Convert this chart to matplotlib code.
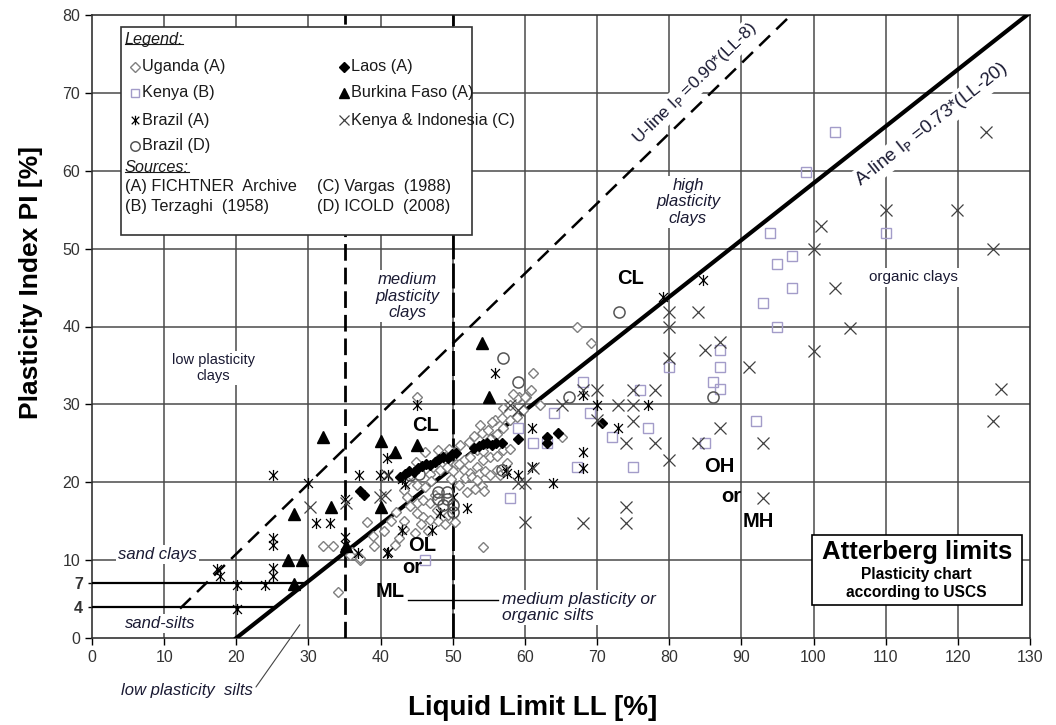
import numpy as np
import matplotlib
matplotlib.use("Agg")
import matplotlib.pyplot as plt
from matplotlib.path import Path
from matplotlib.patches import Rectangle

plt.rcParams['font.family'] = ['Liberation Sans', 'DejaVu Sans']

# (LL, PI) pairs
uganda = [(34.1, 5.9), (32.0, 11.8), (33.4, 11.8), (36.0, 11.0), (37.1, 10.0), (38.1, 14.9), (39.1, 11.8),
          (39.0, 13.1), (42.0, 11.9), (54.2, 11.7), (37.2, 10.3), (35.8, 10.7), (45.1, 31.0),
          (61.1, 34.0), (59.2, 30.9), (60.2, 30.9), (62.1, 29.9), (65.2, 25.8), (67.2, 39.9), (69.2, 37.9),
          (46.1, 23.9), (48.0, 24.1), (48.9, 23.3), (49.4, 22.6), (50.3, 23.9), (51.0, 24.8), (52.2, 25.2),
          (52.9, 25.9), (54.0, 26.3), (54.9, 26.7), (55.9, 28.0), (56.8, 28.2), (57.9, 29.9), (58.9, 30.8),
          (60.0, 31.0), (50.5, 22.4), (51.5, 22.8), (52.4, 23.3), (53.3, 24.1), (54.2, 24.0), (55.2, 25.5),
          (56.1, 26.2), (57.0, 27.0), (57.9, 28.0), (58.9, 28.4), (59.8, 29.3), (51.5, 21.6), (52.4, 21.2),
          (53.3, 22.0), (54.2, 22.8), (55.2, 23.3), (56.1, 23.4), (57.0, 24.1), (58.0, 24.3),
          (46.8, 21.1), (47.3, 21.9), (48.2, 21.6), (49.2, 21.9), (50.1, 21.5), (50.8, 22.4), (51.7, 20.6),
          (52.6, 20.7), (53.6, 21.1), (54.5, 21.5), (53.4, 20.3), (54.1, 19.5), (53.1, 19.1), (54.3, 18.9),
          (55.2, 20.9), (56.1, 21.6), (56.6, 20.9), (57.5, 22.5), (44.1, 20.9), (43.6, 20.1), (45.0, 19.6),
          (46.2, 19.4), (47.0, 20.2), (49.8, 20.4), (50.9, 19.6), (52.0, 18.8),
          (43.3, 19.0), (43.7, 18.1), (45.0, 17.3), (44.1, 16.9), (45.9, 17.7), (46.8, 17.3), (47.8, 16.4),
          (45.0, 16.0), (45.9, 15.6), (46.8, 15.2), (48.0, 15.0), (48.9, 14.7), (43.3, 15.0), (45.6, 14.7),
          (43.3, 14.0), (44.7, 13.5), (47.5, 18.4), (49.3, 15.8), (50.3, 14.9), (46.5, 13.8), (42.2, 16.2),
          (41.5, 15.0), (40.5, 13.8), (42.5, 12.8), (47.8, 22.9), (49.5, 24.3), (44.9, 22.6), (53.8, 27.3),
          (55.4, 27.8), (56.9, 29.5), (58.4, 31.3), (60.8, 31.9)]

laos = [(37.1, 18.9), (37.7, 18.3), (42.7, 20.7), (43.4, 21.0), (44.0, 21.4), (44.6, 21.3), (45.2, 21.8),
        (45.8, 22.1), (46.3, 22.3), (46.9, 22.2), (47.5, 22.6), (48.1, 23.0), (48.7, 23.2), (49.3, 23.1),
        (49.9, 23.6), (50.4, 23.8), (53.0, 24.4), (53.6, 24.6), (54.2, 24.9), (54.8, 25.0), (55.4, 24.8),
        (56.0, 25.0), (56.8, 25.0), (59.1, 25.5), (63.0, 25.8), (63.0, 25.0), (64.6, 26.3), (70.7, 27.6)]

kenya_b = [(103.0, 65.0), (99.0, 59.8), (110.0, 52.0), (94.0, 52.0), (97.0, 49.0), (95.0, 48.0), (97.0, 45.0),
           (93.0, 43.0), (95.0, 39.9), (87.0, 37.0), (87.0, 34.8), (86.0, 32.9), (87.0, 32.0), (92.0, 27.9),
           (85.0, 25.0), (80.0, 34.8), (68.1, 32.9), (75.9, 31.9), (64.0, 28.9), (69.0, 28.9), (77.0, 27.0),
           (72.0, 25.8), (61.1, 25.0), (63.0, 25.0), (67.2, 22.0), (75.0, 22.0), (58.0, 18.0), (59.1, 27.0),
           (46.2, 10.0)]

burkina = [(32.0, 25.8), (28.0, 15.9), (33.1, 16.8), (27.1, 10.0), (29.1, 10.0), (28.0, 6.9), (35.2, 11.8),
           (40.1, 25.3), (40.1, 16.8), (42.0, 23.9), (45.1, 24.8), (54.0, 37.9), (55.0, 30.9)]

brazil_a = [(25.1, 20.9), (25.1, 12.8), (25.1, 11.9), (25.1, 9.0), (25.1, 8.0), (17.3, 8.9), (17.8, 8.0),
            (20.1, 6.8), (24.0, 6.8), (20.1, 3.7), (31.0, 14.8), (33.0, 14.8), (30.0, 19.9), (35.1, 17.8),
            (35.1, 13.0), (35.1, 12.0), (37.0, 20.9), (39.9, 20.9), (40.9, 23.1), (40.9, 10.9), (36.9, 10.9),
            (45.1, 29.9), (43.0, 20.4), (43.4, 19.8), (52.0, 16.7), (50.0, 18.1), (48.2, 16.0), (47.1, 13.9),
            (43.0, 13.9), (41.0, 11.0), (55.9, 34.0), (61.0, 27.0), (61.0, 22.0), (57.5, 21.2), (59.0, 20.9),
            (57.4, 21.6), (84.7, 46.0), (79.1, 43.8), (68.1, 31.2), (70.0, 29.9), (77.1, 29.9), (72.9, 27.0),
            (68.1, 23.9), (68.1, 21.8), (63.9, 19.9), (41.0, 20.9)]

kenya_indo = [(30.2, 16.8), (40.6, 18.4), (39.9, 18.1), (40.9, 20.9), (57.9, 29.9), (59.0, 29.3), (65.1, 29.9),
              (60.0, 14.9), (60.0, 19.9), (80.0, 41.8), (80.0, 39.9), (84.0, 41.8), (80.0, 36.0), (85.0, 37.0),
              (68.1, 31.8), (70.0, 31.8), (70.0, 28.0), (75.0, 31.8), (78.0, 31.8), (72.9, 29.9), (75.0, 29.9),
              (75.0, 27.9), (74.0, 25.0), (78.0, 25.0), (84.0, 25.0), (80.0, 22.8), (61.1, 21.8), (59.1, 19.9),
              (68.1, 14.8), (74.0, 16.8), (74.0, 14.8), (123.9, 65.0), (110.0, 54.9), (119.9, 54.9),
              (101.0, 52.9), (100.0, 49.9), (124.9, 49.9), (103.0, 45.0), (105.1, 39.8), (100.0, 36.8),
              (91.0, 34.8), (87.0, 38.0), (126.0, 32.0), (124.9, 27.9), (87.0, 27.0), (93.0, 25.0),
              (93.0, 18.0), (35.2, 17.3)]

brazil_d = [(73.0, 41.8), (57.0, 36.0), (59.1, 32.9), (66.1, 30.9), (86.1, 30.9), (44.1, 20.9), (48.0, 18.8),
            (49.2, 18.8), (48.0, 17.9), (49.2, 17.9), (48.7, 17.1), (50.0, 17.1), (50.0, 16.2), (56.8, 21.6),
            (45.3, 21.1)]

x_ticks = list(range(0, 131, 10))
y_ticks = list(range(0, 81, 10))
extra_y_ticks = [4, 7]

# asterisk marker like the excel one: an x with a vertical bar
ast = Path([(0, -1), (0, 1), (-0.8, -0.8), (0.8, 0.8), (-0.8, 0.8), (0.8, -0.8)],
           [Path.MOVETO, Path.LINETO, Path.MOVETO, Path.LINETO, Path.MOVETO, Path.LINETO])

series = [
    ("Uganda (A)", uganda, dict(marker='D', ms=5.5, mfc='white', mec='#7f7f7f', mew=1.0)),
    ("Kenya (B)", kenya_b, dict(marker='s', ms=7.5, mfc='none', mec='#a39cc9', mew=1.0)),
    ("Brazil (A)", brazil_a, dict(marker=ast, ms=8, mfc='none', mec='black', mew=0.9)),
    ("Brazil (D)", brazil_d, dict(marker='o', ms=8, mfc='none', mec='#555555', mew=1.1)),
    ("Laos (A)", laos, dict(marker='D', ms=5.5, mfc='black', mec='black', mew=1.0)),
    ("Burkina Faso (A)", burkina, dict(marker='^', ms=8.5, mfc='black', mec='black', mew=1.0)),
    ("Kenya & Indonesia (C)", kenya_indo, dict(marker='x', ms=8, mfc='none', mec='#404040', mew=0.9)),
]

fig = plt.figure(figsize=(10.56, 7.25), dpi=100)
ax = fig.add_axes([92 / 1056, 1 - 638 / 725, 938 / 1056, 623 / 725])
ax.set_xlim(0, 130)
ax.set_ylim(0, 80)

gridc = '#4a4a4a'
for xv in x_ticks[1:-1]:
    ax.axvline(xv, color=gridc, lw=1.1, zorder=1)
for yv in y_ticks[1:-1]:
    ax.axhline(yv, color=gridc, lw=1.1, zorder=1)

# classification lines
ll_u = np.array([12.2, 8 + 80 / 0.9])
ax.plot(ll_u, 0.9 * (ll_u - 8), color='black', lw=1.8, dashes=(6, 3.5), zorder=3)
ll_a = np.array([20, 20 + 80 / 0.73])
ax.plot(ll_a, 0.73 * (ll_a - 20), color='black', lw=3, zorder=3)
ax.axvline(35, color='black', lw=2, dashes=(6, 2.5), zorder=3)
ax.axvline(50, color='black', lw=2, dashes=(9, 1.5), zorder=3)
for pi in extra_y_ticks:
    ax.plot([0, 20 + pi / 0.73], [pi, pi], color='black', lw=1.6, zorder=3)

# scatter data
for name, pts, st in series:
    arr = np.array(pts).T
    ax.plot(arr[0], arr[1], ls='none', zorder=4, **st)

# region labels
box = dict(facecolor='white', edgecolor='none', pad=1.5)
tc = '#1a1a33'
ax.text(83.6, 71.2, "U-line I$_\\mathrm{P}$ =0.90*(LL-8)", rotation=44.2, rotation_mode='anchor',
        ha='center', va='center', fontsize=12.5, color=tc, bbox=box, zorder=2)
ax.text(116.4, 65.9, "A-line I$_\\mathrm{P}$ =0.73*(LL-20)", rotation=38.2, rotation_mode='anchor',
        ha='center', va='center', fontsize=13.5, color=tc, bbox=box, zorder=2)
ax.text(82.6, 56.0, "high\nplasticity\nclays", style='italic', ha='center', va='center',
        fontsize=12, color=tc, bbox=box, zorder=2, linespacing=1.1)
ax.text(43.7, 43.9, "medium\nplasticity\nclays", style='italic', ha='center', va='center',
        fontsize=12, color=tc, bbox=box, zorder=2, linespacing=1.1)
ax.text(16.8, 34.7, "low plasticity\nclays", ha='center', va='center', fontsize=10.5,
        color=tc, bbox=box, zorder=2)
ax.text(113.8, 46.3, "organic clays", ha='center', va='center', fontsize=11, color=tc, bbox=box, zorder=2)
ax.text(9.1, 10.7, "sand clays", style='italic', ha='center', va='center', fontsize=12,
        color=tc, bbox=box, zorder=2)
ax.text(9.4, 1.8, "sand-silts", style='italic', ha='center', va='center', fontsize=12,
        color=tc, bbox=box, zorder=2)
ax.text(56.8, 3.9, "medium plasticity or\norganic silts", style='italic', ha='left', va='center',
        fontsize=12.5, color=tc, bbox=box, zorder=2, linespacing=1.1)
ax.plot([43.8, 56.3], [4.9, 4.9], color='black', lw=1, zorder=3)

bold = dict(fontweight='bold', fontsize=14.5, ha='center', va='center', zorder=5)
ax.text(74.6, 46.2, "CL", **bold)
ax.text(46.2, 27.3, "CL", **bold)
ax.text(87.0, 22.0, "OH", **bold)
ax.text(88.6, 18.2, "or", **bold)
ax.text(92.3, 15.0, "MH", **bold)
ax.text(45.7, 11.9, "OL", **bold)
ax.text(44.4, 9.0, "or", **bold)
ax.text(41.3, 6.0, "ML", **bold)

ax.annotate("low plasticity  silts", xy=(28.8, 1.7), xytext=(13.2, -6.8), ha='center', va='center',
            style='italic', fontsize=12, color=tc, annotation_clip=False,
            arrowprops=dict(arrowstyle='-', color='#444444', lw=0.8, shrinkA=0, shrinkB=0,
                            relpos=(1.0, 0.5)))

# Atterberg box
ax.add_patch(Rectangle((99.8, 4.2), 29.1, 9.0, facecolor='white', edgecolor='black', lw=1.2, zorder=5))
ax.text(114.3, 11.1, "Atterberg limits", fontweight='bold', fontsize=18.5, ha='center', va='center', zorder=6)
ax.text(114.3, 8.1, "Plasticity chart", fontweight='bold', fontsize=11.2, ha='center', va='center', zorder=6)
ax.text(114.3, 5.8, "according to USCS", fontweight='bold', fontsize=11.2, ha='center', va='center', zorder=6)

# legend box built by hand
T = ax.transAxes
ax.add_patch(Rectangle((0.031, 0.647), 0.374, 0.334, transform=T, facecolor='white', edgecolor='#333333',
                       lw=1.2, zorder=5))
lc = '#1a1a1a'
lfs = 11.7
t_leg = ax.text(0.035, 0.961, "Legend:", transform=T, style='italic', fontsize=lfs, color=lc,
                ha='left', va='center', zorder=6)
t_src = ax.text(0.035, 0.756, "Sources:", transform=T, style='italic', fontsize=lfs, color=lc,
                ha='left', va='center', zorder=6)
rows = [0.917, 0.875, 0.831, 0.790]
cols = [(0.0458, 0.0535), (0.2687, 0.2765)]
for i, (name, pts, st) in enumerate(series):
    col = cols[0] if i < 4 else cols[1]
    row = rows[i] if i < 4 else rows[i - 4]
    st2 = dict(st)
    st2['ms'] = st['ms'] * 0.85
    ax.plot([col[0]], [row], transform=T, ls='none', zorder=6, clip_on=False, **st2)
    ax.text(col[1], row, name, transform=T, fontsize=lfs, color=lc, ha='left', va='center', zorder=6)
ax.text(0.035, 0.724, "(A) FICHTNER  Archive", transform=T, fontsize=lfs, color=lc, va='center', zorder=6)
ax.text(0.035, 0.693, "(B) Terzaghi  (1958)", transform=T, fontsize=lfs, color=lc, va='center', zorder=6)
ax.text(0.2399, 0.724, "(C) Vargas  (1988)", transform=T, fontsize=lfs, color=lc, va='center', zorder=6)
ax.text(0.2399, 0.693, "(D) ICOLD  (2008)", transform=T, fontsize=lfs, color=lc, va='center', zorder=6)

# ticks and labels
ax.set_xticks(x_ticks)
ax.set_yticks(y_ticks)
ax.set_yticks(extra_y_ticks, minor=True)
ax.set_yticklabels([str(v) for v in extra_y_ticks], minor=True, fontweight='bold')
ax.tick_params(which='both', direction='out', length=5, labelsize=11.5, labelcolor='#333333', width=1)
ax.tick_params(axis='y', which='minor', length=3)
for s in ax.spines.values():
    s.set_linewidth(1.2)
    s.set_color('#333333')

ax.set_xlabel("Liquid Limit LL [%]", fontsize=20, fontweight='bold')
ax.set_ylabel("Plasticity Index PI [%]", fontsize=19, fontweight='bold')
ax.xaxis.set_label_coords(0.47, -0.092)
ax.yaxis.set_label_coords(-0.052, 0.57)

# underline the legend headings
fig.canvas.draw()
r = fig.canvas.get_renderer()
inv = T.inverted()
for t in (t_leg, t_src):
    bb = t.get_window_extent(r)
    (x0, y0), (x1, y1) = inv.transform([(bb.x0, bb.y0), (bb.x1, bb.y1)])
    ax.plot([x0, x1], [y0 + 0.004, y0 + 0.004], transform=T, color=lc, lw=0.8, zorder=6)

fig.savefig("out.png", dpi=100)
